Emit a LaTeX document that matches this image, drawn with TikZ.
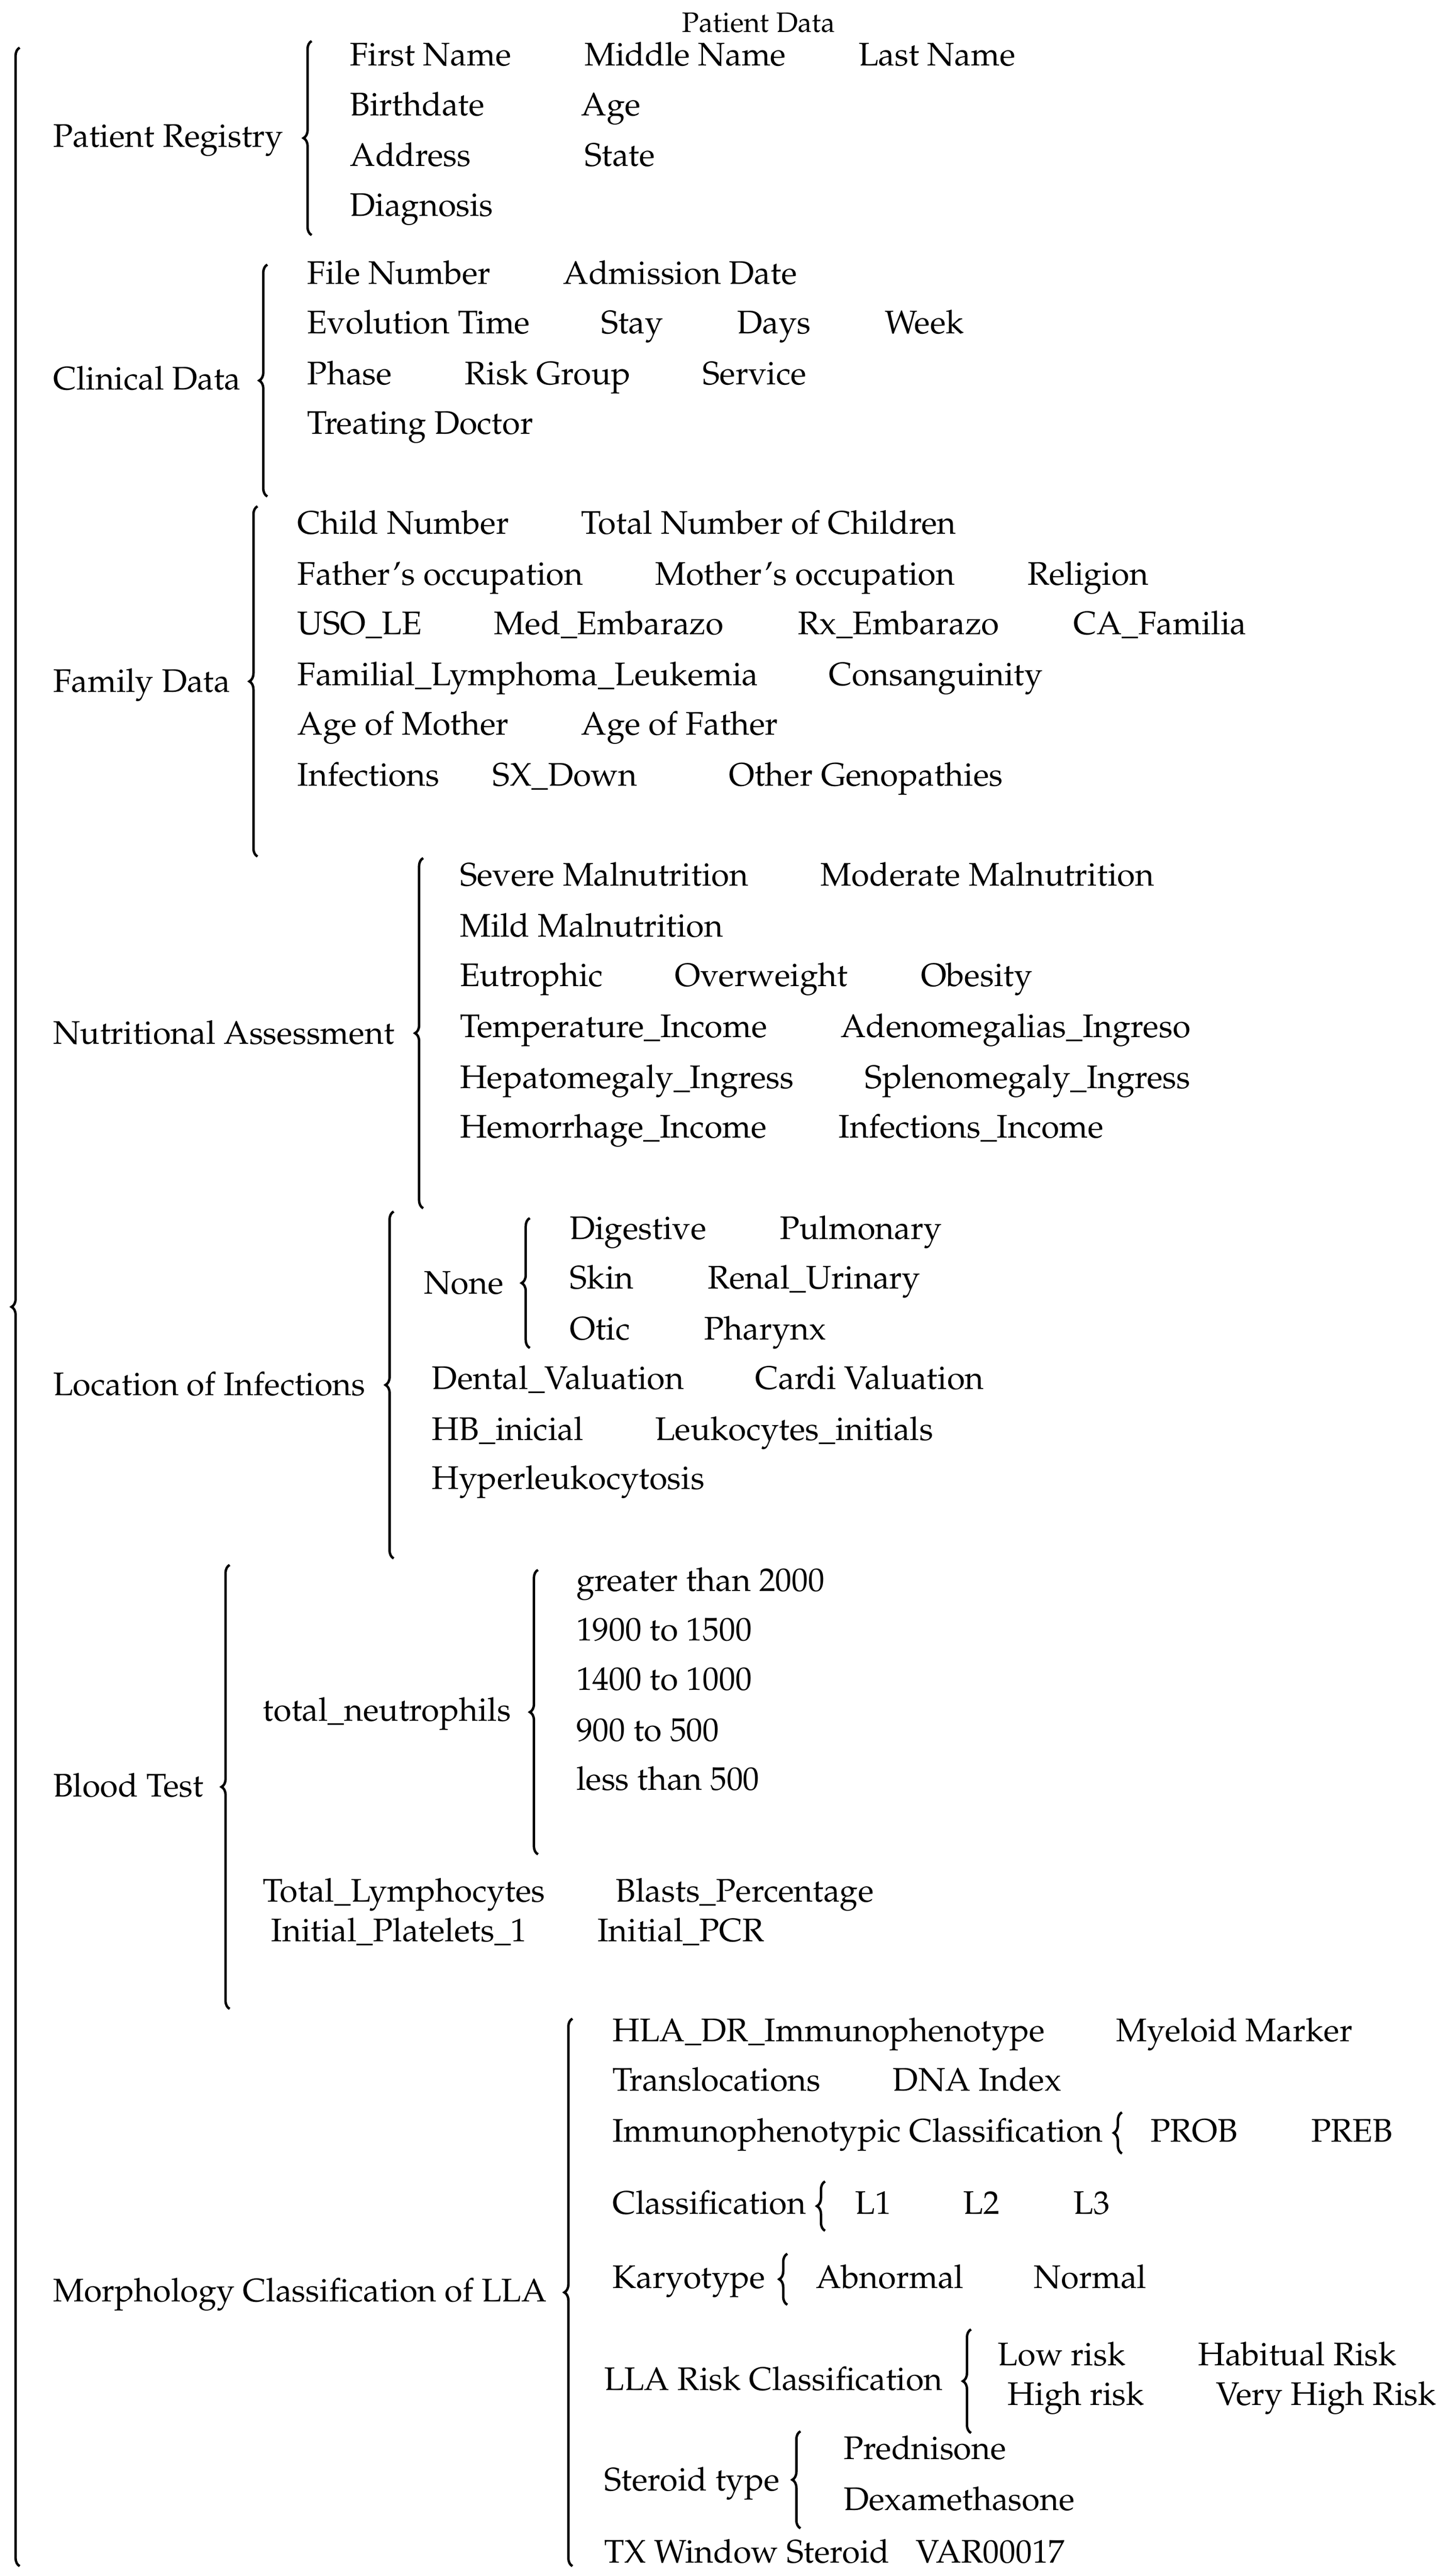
\documentclass[tikz,border=0pt]{standalone}
\usepackage[T1]{fontenc}
\renewcommand{\rmdefault}{ppl}
\usetikzlibrary{decorations.pathreplacing}
\begin{document}
\begin{tikzpicture}[x=0.5pt,y=-0.5pt,
  lbl/.style={anchor=base west, inner sep=0pt, font=\fontsize{10}{12}\selectfont},
  ttl/.style={anchor=base, inner sep=0pt, font=\fontsize{8.6}{10}\selectfont},
  brc/.style={decorate, decoration={brace, amplitude=2.5pt, aspect=0.5}, line width=0.75pt}]
\useasboundingbox (0,0) rectangle (884,1577.7);
\begin{scope}[xscale=1.005, yscale=1.0068]
% title
\node[ttl] (title) at (462.5,19.5) {Patient Data};
% outer brace
\draw[brc] (12,1561) -- (12,29);
% ---------- Patient Registry
\node[lbl] (pr) at (32,89.5) {Patient Registry};
\draw[brc] (190,143) -- (190,25);
\node[lbl] (pr1) at (213,40) {First Name};
\node[lbl] (pr2) at (356,40) {Middle Name};
\node[lbl] (pr3) at (523,40) {Last Name};
\node[lbl] (pr4) at (213,70.5) {Birthdate};
\node[lbl] (pr5) at (354,70.5) {Age};
\node[lbl] (pr6) at (213,101) {Address};
\node[lbl] (pr7) at (356,101) {State};
\node[lbl] (pr8) at (213,131.5) {Diagnosis};
% ---------- Clinical Data
\node[lbl] (cd) at (32,237) {Clinical Data};
\draw[brc] (163,302) -- (163,161);
\node[lbl] (cd1) at (187,173) {File Number};
\node[lbl] (cd2) at (343,173) {Admission Date};
\node[lbl] (cd3) at (187,203) {Evolution Time};
\node[lbl] (cd4) at (366,203) {Stay};
\node[lbl] (cd5) at (449,203) {Days};
\node[lbl] (cd6) at (539,203) {Week};
\node[lbl] (cd7) at (187,234) {Phase};
\node[lbl] (cd8) at (283,234) {Risk Group};
\node[lbl] (cd9) at (428,234) {Service};
\node[lbl] (cd10) at (187,264) {Treating Doctor};
% ---------- Family Data
\node[lbl] (fd) at (32,421) {Family Data};
\draw[brc] (157,521) -- (157,308);
\node[lbl] (fd1) at (181,325) {Child Number};
\node[lbl] (fd2) at (354,325) {Total Number of Children};
\node[lbl] (fd3) at (181,356) {Father's occupation};
\node[lbl] (fd4) at (399,356) {Mother's occupation};
\node[lbl] (fd5) at (626,356) {Religion};
\node[lbl] (fd6) at (181,386) {USO\_LE};
\node[lbl] (fd7) at (301,386) {Med\_Embarazo};
\node[lbl] (fd8) at (486,386) {Rx\_Embarazo};
\node[lbl] (fd9) at (654,386) {CA\_Familia};
\node[lbl] (fd10) at (181,417) {Familial\_Lymphoma\_Leukemia};
\node[lbl] (fd11) at (505,417) {Consanguinity};
\node[lbl] (fd12) at (181,447) {Age of Mother};
\node[lbl] (fd13) at (354,447) {Age of Father};
\node[lbl] (fd14) at (181,478) {Infections};
\node[lbl] (fd15) at (300,478) {SX\_Down};
\node[lbl] (fd16) at (444,478) {Other Genopathies};
% ---------- Nutritional Assessment
\node[lbl] (na) at (32,635) {Nutritional Assessment};
\draw[brc] (258,735) -- (258,522);
\node[lbl] (na1) at (280,539) {Severe Malnutrition};
\node[lbl] (na2) at (500,539) {Moderate Malnutrition};
\node[lbl] (na3) at (280,570) {Mild Malnutrition};
\node[lbl] (na4) at (280,600) {Eutrophic};
\node[lbl] (na5) at (411,600) {Overweight};
\node[lbl] (na6) at (561,600) {Obesity};
\node[lbl] (na7) at (280,631) {Temperature\_Income};
\node[lbl] (na8) at (512,631) {Adenomegalias\_Ingreso};
\node[lbl] (na9) at (280,662) {Hepatomegaly\_Ingress};
\node[lbl] (na10) at (527,662) {Splenomegaly\_Ingress};
\node[lbl] (na11) at (280,692) {Hemorrhage\_Income};
\node[lbl] (na12) at (511,692) {Infections\_Income};
% ---------- Location of Infections
\node[lbl] (li) at (32,849) {Location of Infections};
\draw[brc] (240,948) -- (240,737);
\node[lbl] (none) at (258,787) {None};
\draw[brc] (323,820) -- (323,741);
\node[lbl] (li1) at (347,754) {Digestive};
\node[lbl] (li2) at (475,754) {Pulmonary};
\node[lbl] (li3) at (347,784) {Skin};
\node[lbl] (li4) at (431,784) {Renal\_Urinary};
\node[lbl] (li5) at (347,815) {Otic};
\node[lbl] (li6) at (429,815) {Pharynx};
\node[lbl] (li7) at (263,845) {Dental\_Valuation};
\node[lbl] (li8) at (460,845) {Cardi Valuation};
\node[lbl] (li9) at (263,876) {HB\_inicial};
\node[lbl] (li10) at (399,876) {Leukocytes\_initials};
\node[lbl] (li11) at (263,906) {Hyperleukocytosis};
% ---------- Blood Test
\node[lbl] (bt) at (32,1093) {Blood Test};
\draw[brc] (140,1222) -- (140,952);
\node[lbl] (tn) at (160,1047) {total\_neutrophils};
\draw[brc] (328,1128) -- (328,955);
\node[lbl] (bt1) at (351,968) {greater than 2000};
\node[lbl] (bt2) at (351,998) {1900 to 1500};
\node[lbl] (bt3) at (351,1028) {1400 to 1000};
\node[lbl] (bt4) at (351,1059) {900 to 500};
\node[lbl] (bt5) at (351,1089) {less than 500};
\node[lbl] (bt6) at (160,1157) {Total\_Lymphocytes};
\node[lbl] (bt7) at (375,1157) {Blasts\_Percentage};
\node[lbl] (bt8) at (165,1181) {Initial\_Platelets\_1};
\node[lbl] (bt9) at (364,1181) {Initial\_PCR};
% ---------- Morphology Classification of LLA
\node[lbl] (mc) at (32,1400) {Morphology Classification of LLA};
\draw[brc] (349,1561) -- (349,1228);
\node[lbl] (mc1) at (373,1242) {HLA\_DR\_Immunophenotype};
\node[lbl] (mc2) at (680,1242) {Myeloid Marker};
\node[lbl] (mc3) at (373,1272) {Translocations};
\node[lbl] (mc4) at (544,1272) {DNA Index};
\node[lbl] (ic) at (373,1303) {Immunophenotypic Classification};
\draw[brc] (684,1310) -- (684,1285);
\node[lbl] (ic1) at (701,1303) {PROB};
\node[lbl] (ic2) at (799,1303) {PREB};
\node[lbl] (cl) at (373,1347) {Classification};
\draw[brc] (503,1357) -- (503,1327);
\node[lbl] (cl1) at (521,1347) {L1};
\node[lbl] (cl2) at (587,1347) {L2};
\node[lbl] (cl3) at (654,1347) {L3};
\node[lbl] (ka) at (373,1392) {Karyotype};
\draw[brc] (480,1402) -- (480,1371);
\node[lbl] (ka1) at (497,1392) {Abnormal};
\node[lbl] (ka2) at (630,1392) {Normal};
\node[lbl] (rc) at (368,1454) {LLA Risk Classification};
\draw[brc] (592,1480) -- (592,1417);
\node[lbl] (rc1) at (608,1439) {Low risk};
\node[lbl] (rc2) at (730,1439) {Habitual Risk};
\node[lbl] (rc3) at (614,1463) {High risk};
\node[lbl] (rc4) at (741,1463) {Very High Risk};
\node[lbl] (st) at (368,1515) {Steroid type};
\draw[brc] (488,1538) -- (488,1479);
\node[lbl] (st1) at (514,1496) {Prednisone};
\node[lbl] (st2) at (514,1527) {Dexamethasone};
\node[lbl] (tx1) at (368,1559) {TX Window Steroid};
\node[lbl] (tx2) at (558,1559) {VAR00017};
\end{scope}
\end{tikzpicture}
\end{document}
